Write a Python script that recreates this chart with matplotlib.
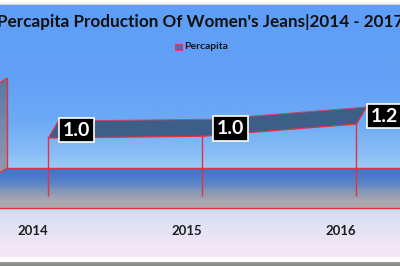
import numpy as np
import matplotlib.pyplot as plt
from matplotlib.patches import Polygon

# data
years = [2014, 2015, 2016]
percapita = [1.0, 1.03, 1.24]
title = "Percapita Production Of Women's Jeans|2014 - 2017"
series_name = "Percapita"

W, H = 400, 266
RED = '#e3323c'
RIBBON = '#3e5e8a'
FONT = 'Lato'

# pixel scale of the (cropped) 3d chart
PX_YR, X0 = 154.0, 48.5      # px per category, x of first category
PX_V, Y0 = 58.0, 196.0       # px per unit, y of value 0


def dx(px):
    return px / PX_YR


def dy(px):
    return px / PX_V


def grad(stops, n):
    rows = np.arange(n)
    pos = [s[0] for s in stops]
    cols = np.array([plt.matplotlib.colors.to_rgb(s[1]) for s in stops])
    out = np.stack([np.interp(rows, pos, cols[:, k]) for k in range(3)], axis=-1)
    return out[:, None, :]


fig = plt.figure(figsize=(W / 100, H / 100), dpi=100)

# chart area background
bg = fig.add_axes([0, 0, 1, 1])
bg.axis('off')
bg_stops = [(0, '#ffffff'), (3, '#f2f2f2'), (4, '#d6d6d6'), (5, '#5f9ef6'),
            (80, '#62a1f6'), (120, '#6caaf6'), (150, '#86bbf6'), (166, '#9acaf8'),
            (208, '#9acaf8'), (209, '#d3dcf2'), (225, '#dfe3f4'), (245, '#f2e5f6'),
            (256, '#f6e6f7'), (257, '#ffffff'), (261, '#ffffff'), (262, '#9a9a9a'),
            (266, '#808080')]
bg.imshow(grad(bg_stops, H), aspect='auto', extent=[0, 1, 1, 0], interpolation='bilinear')
bg.set_xlim(0, 1)
bg.set_ylim(1, 0)

ax = fig.add_axes([0, 0, 1, 1])
ax.patch.set_alpha(0)
ax.axis('off')
x_lo, x_hi = years[0] - X0 / PX_YR, years[0] + (W - X0) / PX_YR
y_lo, y_hi = (Y0 - H) / PX_V, Y0 / PX_V
ax.set_xlim(x_lo, x_hi)
ax.set_ylim(y_lo, y_hi)

floor_front = dy(-12)
floor_back = dy(28)
wall_x = years[0] - 0.5 + dx(36)
wall_top = 1.55 + floor_back

# floor
floor_stops = [(0, '#4472c4'), (8, '#4a7acc'), (16, '#5e86c6'), (24, '#8898b8'),
               (33, '#a8a6b0'), (40, '#b2a8b0')]
ax.imshow(grad(floor_stops, 41), aspect='auto', interpolation='bilinear',
          extent=[x_lo, x_hi, floor_front, floor_back], zorder=1)
ax.axhline(floor_front, color=RED, lw=1.0, zorder=2)
ax.hlines(floor_back, wall_x, x_hi, color=RED, lw=1.0, zorder=2)

# side wall
side = np.array([[wall_x, floor_back], [wall_x, wall_top],
                 [wall_x - dx(40), wall_top - dy(25)],
                 [wall_x - dx(40), floor_back - dy(25)]])
side_patch = Polygon(side, closed=True, fc='none', ec=RED, lw=1.0, zorder=3)
ax.add_patch(side_patch)
wall_img = ax.imshow(grad([(0, '#5879a6'), (50, '#7b8cab'), (100, '#a19fab')], 101),
                     aspect='auto', interpolation='bilinear', zorder=2,
                     extent=[wall_x - dx(40), wall_x, floor_back - dy(25), wall_top])
wall_img.set_clip_path(side_patch)
ax.set_xlim(x_lo, x_hi)
ax.set_ylim(y_lo, y_hi)

# drop lines
xs = np.array(years, float)
vs = np.array(percapita)
ax.vlines(xs, 0, vs, color=RED, lw=1.0, zorder=2)

# 3d ribbon
bx, bv = xs + dx(10), vs + dy(17)
ribbon = np.column_stack([np.r_[xs, bx[::-1]], np.r_[vs, bv[::-1]]])
ax.add_patch(Polygon(ribbon, closed=True, fc=RIBBON, ec='none', zorder=3))
ax.plot(xs, vs, color=RED, lw=0.9, zorder=4)
ax.plot(bx, bv, color='#c84a5a', lw=0.7, zorder=4)
ax.plot([xs[0], bx[0]], [vs[0], bv[0]], color=RED, lw=0.9, zorder=4)
ax.plot([xs[-1], bx[-1]], [vs[-1], bv[-1]], color=RED, lw=0.9, zorder=4)

# data labels
for x, v in zip(xs, vs):
    ax.annotate(f'{v:.1f}', (x, v), xytext=(28, 8), textcoords='offset pixels',
                ha='center', va='center', color='white', fontsize=14,
                fontweight='bold', family=FONT, zorder=6,
                bbox=dict(boxstyle='square,pad=0.2', fc='black', ec='white', lw=1.2))

# category labels
for x in years:
    ax.text(x - dx(16), dy(196 - 231), str(x), ha='center', va='center',
            fontsize=9.5, fontweight='bold', family=FONT, color='#1e1e1e', zorder=5)

# title and legend
fig.text(0.5, 1 - 22 / H, title, ha='center', va='center', fontsize=12.3,
         fontweight='bold', family=FONT, color='#101010')
fig.patches.append(plt.Rectangle((175 / W, 1 - 50 / H), 6.5 / W, 6.5 / H,
                                 fc='#4f6f9c', ec=RED, lw=0.6,
                                 transform=fig.transFigure, figure=fig))
fig.text(184 / W, 1 - 46.5 / H, series_name, ha='left', va='center', fontsize=7.5,
         fontweight='bold', family=FONT, color='#141420')

fig.savefig('out.png', dpi=100)
